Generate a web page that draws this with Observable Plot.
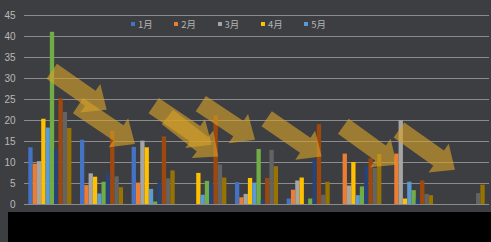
<!DOCTYPE html>
<html><head><meta charset="utf-8">
<script src="https://cdn.jsdelivr.net/npm/d3@7"></script>
<script src="https://cdn.jsdelivr.net/npm/@observablehq/plot@0.6"></script>
<style>
html,body{margin:0;padding:0;background:#3d3e42;width:491px;height:242px;overflow:hidden;}
#wrap{position:relative;width:491px;height:242px;}
#legend{position:absolute;top:18px;left:131px;display:flex;font:9.5px "Noto Sans CJK SC",sans-serif;color:#b4b4b4;line-height:12px;}
.item{width:43.3px;display:flex;align-items:center;}
.sw{width:4px;height:4px;margin-right:3px;}
#foot{position:absolute;left:8px;top:212px;width:483px;height:30px;background:#000;}
</style></head><body><div id="wrap"><div id="chart"></div><div id="legend"></div><div id="foot"></div></div>
<script>
const categories = ["类别1","类别2","类别3","类别4","类别5","类别6","类别7","类别8","类别9"];
const seriesNames = ["1月","2月","3月","4月","5月","6月","7月","8月","9月","10月"];
const legendNames = ["1月","2月","3月","4月","5月"];
const yTicks = [0,5,10,15,20,25,30,35,40,45];
const s1  = [13.5,15.3,13.6,0,5.2,1.3,0,0,0];
const s2  = [9.6,4.5,5.1,0,1.6,3.4,12.0,12.0,0];
const s3  = [10.2,7.3,15.1,0,2.4,5.6,4.4,20.0,0];
const s4  = [20.3,6.5,13.5,7.4,6.2,6.3,10.0,1.3,0];
const s5  = [18.2,2.5,3.6,2.2,5.1,0,2.1,5.3,0];
const s6  = [41,5.3,0.6,5.5,13.1,1.3,4.2,3.3,0];
const s7  = [13.2,7.3,5.1,5.1,1.0,10.7,9.0,1.2,0];
const s8  = [25.2,17.4,16.1,21.1,6.2,19.0,10.9,5.6,0];
const s9  = [21.9,6.6,6.1,9.4,12.9,2.2,8.6,2.4,2.6];
const s10 = [18.1,4.0,8.0,6.3,9.0,5.3,11.9,2.1,4.6];
const seriesValues = [s1,s2,s3,s4,s5,s6,s7,s8,s9,s10];
const colors = ["#4472C4","#ED7D31","#A5A5A5","#FFC000","#5B9BD5","#70AD47","#264478","#9E480E","#636363","#997300"];
// arrow annotations in data units (category position, value)
const arrowTailX = [0.536,1.045,2.510,2.777,3.422,4.697,6.180,7.258];
const arrowTailY = [31.6,23.4,23.45,20.7,23.9,20.3,18.5,17.6];
const arrowTipX  = [1.600,2.148,3.633,3.760,4.471,5.762,7.213,8.341];
const arrowTipY  = [22.45,14.3,14.1,11.3,15.3,11.3,9.35,8.17];

const table = [];
seriesValues.forEach((vals, si) => vals.forEach((v, ci) => table.push({ci, si, series: seriesNames[si], category: categories[ci], value: v})));

function arrowsMark(index, scales) {
  const g = d3.create("svg:g");
  arrowTailX.forEach((_, i) => {
    const x0 = scales.x(arrowTailX[i]), y0 = scales.y(arrowTailY[i]);
    const x1 = scales.x(arrowTipX[i]), y1 = scales.y(arrowTipY[i]);
    const dx = x1 - x0, dy = y1 - y0, L = Math.hypot(dx, dy);
    const ux = dx / L, uy = dy / L, px = -uy, py = ux;
    const sw = 9.2, hw = 17.5, hl = 20;
    const bx = x1 - ux * hl, by = y1 - uy * hl;
    const pts = [[x0+px*sw,y0+py*sw],[bx+px*sw,by+py*sw],[bx+px*hw,by+py*hw],[x1,y1],[bx-px*hw,by-py*hw],[bx-px*sw,by-py*sw],[x0-px*sw,y0-py*sw]];
    g.append("polygon").attr("points", pts.map(p => p.join(",")).join(" ")).attr("fill", "#d6a22a").attr("fill-opacity", 0.62);
  });
  return g.node();
}

const chart = Plot.plot({
  width: 491, height: 212,
  marginLeft: 24, marginRight: 2, marginTop: 15, marginBottom: 8,
  style: {background: "transparent", color: "#b8b8b8", fontSize: "10px", fontFamily: "'Liberation Sans', 'Noto Sans CJK SC', sans-serif"},
  x: {type: "linear", domain: [0, 9], axis: null},
  y: {domain: [0, 45], ticks: yTicks, tickSize: 0, tickPadding: 9, label: null},
  color: {domain: seriesNames, range: colors},
  marks: [
    Plot.ruleY(yTicks, {stroke: "#8c8c8c", strokeWidth: 1}),
    Plot.rectY(table, {x1: d => d.ci + (d.si + 1) / 12, x2: d => d.ci + (d.si + 2) / 12, y: "value", fill: "series", inset: 0}),
    arrowsMark
  ]
});
document.getElementById("chart").appendChild(chart);

const leg = document.getElementById("legend");
legendNames.forEach(n => {
  const it = document.createElement("div"); it.className = "item";
  const sw = document.createElement("span"); sw.className = "sw"; sw.style.background = colors[seriesNames.indexOf(n)];
  const t = document.createElement("span"); t.textContent = n;
  it.appendChild(sw); it.appendChild(t); leg.appendChild(it);
});
</script></body></html>
